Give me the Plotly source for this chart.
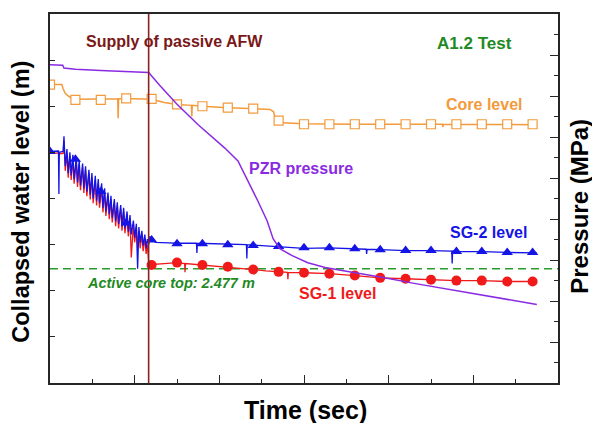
import plotly.graph_objects as go

# ── Data (time in plot units, levels in m, pressure in MPa) ───────────────────

ACTIVE_CORE_TOP = 2.477
AFW_START = 2.33

# PZR pressure (right axis)
pzr_t = [0.00, 0.30, 0.33, 0.60, 1.20, 1.80, 2.33, 2.60, 3.00, 3.50, 4.13, 4.44,
         4.68, 4.91, 5.13, 5.27, 5.43, 5.72, 6.09, 6.50, 7.00, 7.87, 8.60, 9.50,
         10.50, 11.50]
pzr_p = [15.53, 15.50, 15.36, 15.30, 15.24, 15.19, 15.15, 14.50, 13.60, 12.60, 11.46, 10.83,
         9.85, 8.88, 7.90, 7.04, 6.55, 6.21, 5.87, 5.63, 5.45, 5.15, 4.86, 4.53,
         4.17, 3.83]

# core collapsed level
core_t = [0.00, 0.28, 0.31, 0.36, 0.42, 0.50, 0.60, 1.00, 1.60, 1.61, 1.62, 2.00,
          2.40, 2.70, 3.00, 3.34, 3.35, 3.36, 3.60, 4.20, 4.80, 5.20, 5.28, 5.33,
          5.40, 5.50, 6.00, 7.17, 7.18, 7.19, 9.27, 9.28, 9.29, 11.50]
core_m = [6.47, 6.47, 6.38, 6.28, 6.23, 6.18, 6.15, 6.15, 6.16, 5.74, 6.16, 6.16,
          6.15, 6.08, 6.04, 6.02, 5.78, 6.02, 6.00, 5.97, 5.95, 5.93, 5.88, 5.72,
          5.69, 5.64, 5.62, 5.61, 5.52, 5.61, 5.61, 5.55, 5.61, 5.60]

# SG levels before AFW supply (oscillating)
sg_early_t = [0.00, 0.20, 0.21, 0.22, 0.31, 0.33, 0.36, 0.40, 0.43, 0.47, 0.50, 0.54,
              0.57, 0.62, 0.65, 0.69, 0.72, 0.77, 0.80, 0.84, 0.87, 0.92, 0.95, 0.99,
              1.02, 1.07, 1.10, 1.14, 1.17, 1.22, 1.25, 1.29, 1.32, 1.37, 1.40, 1.44,
              1.47, 1.52, 1.55, 1.59, 1.62, 1.67, 1.70, 1.74, 1.77, 1.82, 1.85, 1.89,
              1.92, 1.97, 2.00, 2.04, 2.07, 2.10, 2.13, 2.17, 2.20, 2.24, 2.27, 2.30,
              2.33]
sg2_early_m = [5.02, 5.03, 4.10, 5.00, 5.02, 5.35, 4.70, 5.07, 4.55, 5.00, 4.50, 4.95,
               4.42, 4.88, 4.35, 4.83, 4.28, 4.76, 4.22, 4.70, 4.15, 4.62, 4.08, 4.55,
               4.00, 4.49, 3.95, 4.42, 3.90, 4.33, 3.80, 4.22, 3.72, 4.13, 3.66, 4.06,
               3.58, 3.99, 3.50, 3.92, 3.45, 3.86, 3.40, 3.80, 3.35, 3.72, 3.28, 3.64,
               3.22, 3.52, 3.15, 3.45, 2.48, 3.38, 3.05, 3.30, 2.98, 3.22, 2.92, 3.12,
               3.00]
sg1_early_m = [4.98, 4.99, 4.96, 4.97, 4.98, 5.25, 4.60, 4.98, 4.45, 4.92, 4.40, 4.86,
               4.32, 4.80, 4.25, 4.74, 4.18, 4.68, 4.12, 4.62, 4.05, 4.54, 3.98, 4.46,
               3.90, 4.40, 3.85, 4.33, 3.80, 4.24, 3.70, 4.14, 3.62, 4.05, 3.55, 3.98,
               3.48, 3.91, 3.40, 3.84, 3.35, 3.78, 3.30, 3.72, 3.25, 3.64, 3.18, 3.56,
               2.72, 3.45, 3.05, 3.37, 2.95, 3.30, 2.92, 3.22, 2.86, 3.14, 2.80, 3.00,
               2.62]

# SG levels after AFW supply
sg2_late_t = [2.36, 2.40, 2.50, 2.80, 3.00, 3.46, 3.47, 3.48, 4.20, 4.64, 4.65, 4.66,
              4.80, 5.40, 6.00, 6.60, 7.20, 7.47, 7.48, 7.49, 7.80, 8.40, 9.00, 9.49,
              9.50, 9.51, 9.60, 10.20, 10.80, 11.40, 11.50]
sg2_late_m = [3.18, 3.10, 3.05, 3.04, 3.03, 3.03, 2.82, 3.03, 3.01, 3.00, 2.70, 3.00,
              2.99, 2.96, 2.92, 2.93, 2.91, 2.90, 2.80, 2.90, 2.89, 2.87, 2.87, 2.86,
              2.59, 2.86, 2.85, 2.85, 2.83, 2.82, 2.82]
sg1_late_t = [2.36, 2.40, 2.70, 3.00, 3.18, 3.19, 3.20, 3.60, 3.90, 4.20, 4.50, 4.80,
              5.10, 5.40, 5.61, 5.62, 5.63, 6.00, 6.60, 7.20, 7.80, 8.40, 9.00, 9.60,
              10.20, 10.80, 11.40, 11.50]
sg1_late_m = [2.60, 2.57, 2.59, 2.61, 2.59, 2.40, 2.59, 2.56, 2.54, 2.52, 2.49, 2.46,
              2.43, 2.41, 2.40, 2.25, 2.40, 2.39, 2.37, 2.33, 2.28, 2.26, 2.24, 2.22,
              2.22, 2.20, 2.20, 2.20]

# symbol positions
mark_t = [0.0, 0.6, 1.2, 1.8, 2.4, 3.0, 3.6, 4.2, 4.8, 5.4, 6.0, 6.6, 7.2, 7.8,
          8.4, 9.0, 9.6, 10.2, 10.8, 11.4]
core_mark_m = [6.47, 6.14, 6.14, 6.17, 6.16, 6.04, 6.00, 5.97, 5.95, 5.69, 5.61, 5.61,
               5.61, 5.61, 5.61, 5.61, 5.61, 5.61, 5.61, 5.61]
sg2_mark_m = [5.02, 4.85, 4.15, 3.47, 3.10, 3.02, 3.02, 3.00, 2.98, 2.96, 2.93, 2.93,
              2.91, 2.89, 2.87, 2.87, 2.85, 2.85, 2.83, 2.83]
sg1_mark_t = mark_t[4:]
sg1_mark_m = [2.56, 2.61, 2.56, 2.52, 2.46, 2.41, 2.39, 2.37, 2.33, 2.28, 2.26, 2.24,
              2.22, 2.22, 2.20, 2.20]

# ── Style ─────────────────────────────────────────────────────────────────────

FONT = "Arial, Liberation Sans, sans-serif"
C_CORE = "#F39A3C"
C_PZR = "#8A2BE2"
C_SG1 = "#F01A1A"
C_SG2 = "#1414E6"
C_GREEN = "#1F8A1F"
C_AFW = "#8B2020"
C_AXIS = "#262626"

fig = go.Figure()

# Core level
fig.add_trace(go.Scatter(x=core_t, y=core_m, mode="lines",
                         line=dict(color=C_CORE, width=1.5), showlegend=False))
fig.add_trace(go.Scatter(x=mark_t, y=core_mark_m, mode="markers",
                         marker=dict(symbol="square", size=9, color="white",
                                     line=dict(color=C_CORE, width=1.2)),
                         showlegend=False))

# SG-1 level
fig.add_trace(go.Scatter(x=sg_early_t + sg1_late_t, y=sg1_early_m + sg1_late_m,
                         mode="lines", line=dict(color=C_SG1, width=1.3),
                         showlegend=False))
fig.add_trace(go.Scatter(x=sg1_mark_t, y=sg1_mark_m, mode="markers",
                         marker=dict(symbol="circle", size=10, color=C_SG1),
                         showlegend=False))

# SG-2 level
fig.add_trace(go.Scatter(x=sg_early_t + sg2_late_t, y=sg2_early_m + sg2_late_m,
                         mode="lines", line=dict(color=C_SG2, width=1.3),
                         showlegend=False))
fig.add_trace(go.Scatter(x=mark_t, y=sg2_mark_m, mode="markers",
                         marker=dict(symbol="triangle-up", size=10, color=C_SG2),
                         showlegend=False))

# PZR pressure on right axis
fig.add_trace(go.Scatter(x=pzr_t, y=pzr_p, mode="lines", yaxis="y2",
                         line=dict(color=C_PZR, width=1.5), showlegend=False))

fig.add_hline(y=ACTIVE_CORE_TOP, line=dict(color="#2A9A2A", width=1.5, dash="8px,5px"),
              layer="below")
fig.add_vline(x=AFW_START, line=dict(color=C_AFW, width=1.6))

# ── Labels ────────────────────────────────────────────────────────────────────

def label(text, x, y, color, size=16, italic=False):
    if italic:
        text = f"<i>{text}</i>"
    fig.add_annotation(text=f"<b>{text}</b>", x=x, y=y, xref="x", yref="y",
                       showarrow=False, font=dict(family=FONT, size=size, color=color))


label("Supply of passive AFW", 2.95, 7.40, "#7A1818")
label("A1.2 Test", 10.02, 7.35, C_GREEN, size=17)
label("Core level", 10.25, 6.04, C_CORE)
label("PZR pressure", 5.93, 4.64, C_PZR)
label("SG-2 level", 10.35, 3.26, C_SG2)
label("SG-1 level", 6.78, 1.94, C_SG1)
label("Active core top: 2.477 m", 2.86, 2.16, C_GREEN, size=14.5, italic=True)


def axis_title(text, x, y, angle=0, size=24):
    fig.add_annotation(text=f"<b>{text}</b>", x=x, y=y, xref="paper", yref="paper",
                       xanchor="center", yanchor="middle", textangle=angle,
                       showarrow=False, font=dict(family=FONT, size=size, color="black"))


axis_title("Collapsed water level (m)", -0.056, 0.49, -90, size=23.5)
axis_title("Pressure (MPa)", 1.043, 0.48, -90)
axis_title("Time (sec)", 0.502, -0.073, size=25)

axis_common = dict(showgrid=False, zeroline=False, showticklabels=False,
                   showline=True, linecolor=C_AXIS, linewidth=1.5,
                   ticks="inside", tickcolor=C_AXIS, tickwidth=1.3)

# page body adds an 8px margin, so the figure is sized to fit inside it
fig.update_layout(
    width=584, height=415,
    margin=dict(l=42, r=34, t=4, b=40),
    paper_bgcolor="white", plot_bgcolor="white",
    xaxis=dict(range=[0, 12], tick0=0, dtick=2, ticklen=8, mirror=True,
               minor=dict(dtick=1, ticklen=4, ticks="inside", tickcolor=C_AXIS),
               **axis_common),
    yaxis=dict(range=[0, 8], tick0=0, dtick=1, ticklen=5, **axis_common),
    yaxis2=dict(range=[0, 18], tick0=0, dtick=2, ticklen=8, overlaying="y",
                side="right",
                minor=dict(dtick=1, ticklen=4, ticks="inside", tickcolor=C_AXIS),
                **axis_common),
    showlegend=False,
)

fig.write_html("out.html")
